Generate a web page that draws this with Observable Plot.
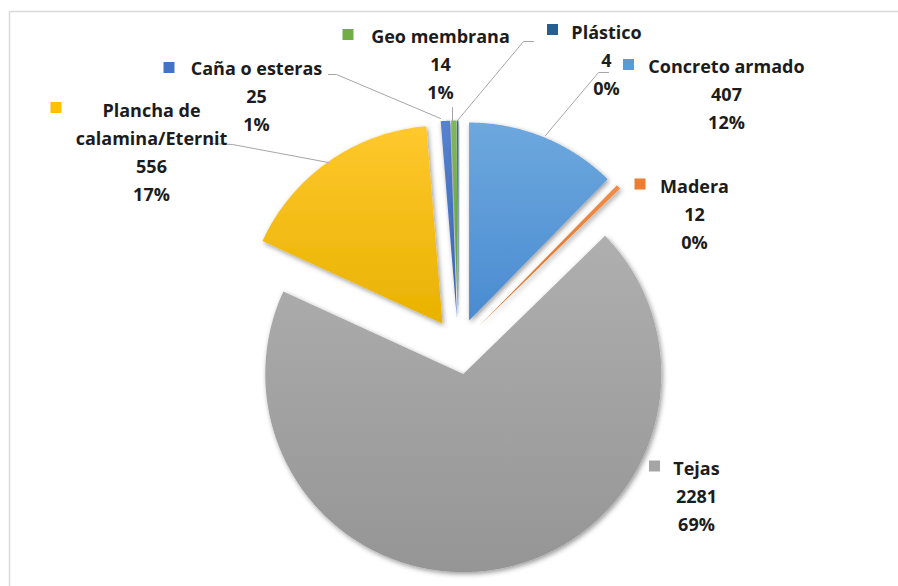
<!DOCTYPE html>
<html><head><meta charset="utf-8">
<script src="https://cdn.jsdelivr.net/npm/d3@7"></script>
<script src="https://cdn.jsdelivr.net/npm/@observablehq/plot@0.6"></script>
<style>html,body{margin:0;padding:0;background:#fff;overflow:hidden}</style>
</head><body><div id="chart"></div>
<script>
// ---- data ----
const categories = ["Concreto armado","Madera","Tejas","Plancha de calamina/Eternit","Caña o esteras","Geo membrana","Plástico"];
const counts = [407, 12, 2281, 556, 25, 14, 4];
const percentLabels = ["12%","0%","69%","17%","1%","1%","0%"];
const nameLines = [["Concreto armado"],["Madera"],["Tejas"],["Plancha de","calamina/Eternit"],["Caña o esteras"],["Geo membrana"],["Plástico"]];
const colors = ["#5B9BD5","#ED7D31","#A5A5A5","#FFC000","#4472C4","#70AD47","#255E91"];
const gradTop = ["#6DA8DE","#F28C47","#AFAFAF","#FFC82E","#5682CE","#7EB85A","#2F6BA2"];
const gradBottom = ["#4A8BD1","#DD6E1F","#959595","#E8B200","#3966B8","#60A03B","#1E5283"];

// ---- layout (pixels) ----
const W = 898, H = 586, CX = 458, CY = 346, R = 198, EXPLODE = 28;
const toU = (px, py) => [(px - CX) / R, (CY - py) / R];
const labelLayout = [
  {tx: 726, ty: 92,  kx: 628,   ky: 64},
  {tx: 694, ty: 212, kx: 639.5, ky: 183.5},
  {tx: 696, ty: 494, kx: 654,   ky: 465.5},
  {tx: 151, ty: 150, kx: 55.5,  ky: 107},
  {tx: 256, ty: 94,  kx: 168.5, ky: 67},
  {tx: 440, ty: 62,  kx: 347.5, ky: 34},
  {tx: 606, ty: 58,  kx: 552,   ky: 29}
];
const leaderLayout = [
  {i: 0, pts: [[608,72],[598,72],[545,135]]},
  {i: 3, pts: [[209,143],[232,144],[328,162]]},
  {i: 4, pts: [[328,74],[336,74],[440,118]]},
  {i: 5, pts: [[452,107],[452,120]]},
  {i: 6, pts: [[533,41],[523,41],[457,120]]}
];

// ---- geometry from data ----
const arcs = d3.pie().sort(null).value(d => d)(counts);
const slices = arcs.map((p, i) => {
  const mid = (p.startAngle + p.endAngle) / 2;
  const ox = Math.sin(mid) * EXPLODE / R, oy = Math.cos(mid) * EXPLODE / R;
  const n = Math.max(2, Math.ceil((p.endAngle - p.startAngle) / (Math.PI / 360)));
  const pts = [{x: ox, y: oy}];
  for (let k = 0; k <= n; k++) {
    const a = p.startAngle + (p.endAngle - p.startAngle) * k / n;
    pts.push({x: ox + Math.sin(a), y: oy + Math.cos(a)});
  }
  return pts;
});

const labels = categories.map((c, i) => {
  const [x, y] = toU(labelLayout[i].tx, labelLayout[i].ty);
  const [kx, ky] = toU(labelLayout[i].kx, labelLayout[i].ky);
  return {x, y, kx, ky, color: colors[i],
    text: [...nameLines[i], String(counts[i]), percentLabels[i]].join("\n")};
});
const leaders = leaderLayout.flatMap((l, j) => l.pts.map(([px, py]) => {
  const [x, y] = toU(px, py); return {id: j, x, y};
}));

const FONT = "'Open Sans', Lato, sans-serif";
const plot = Plot.plot({
  width: W, height: H, margin: 0,
  x: {domain: [-CX / R, (W - CX) / R], axis: null},
  y: {domain: [-(H - CY) / R, CY / R], axis: null},
  color: {type: "identity"},
  marks: [
    Plot.frame({stroke: "#D9D9D9", strokeWidth: 1.5, insetLeft: 9, insetTop: 11, insetRight: -4, insetBottom: -4}),
    ...slices.map((pts, i) => Plot.line(pts, {x: "x", y: "y", fill: colors[i], stroke: "none", ariaDescription: "slice"})),
    Plot.line(leaders, {x: "x", y: "y", z: "id", stroke: "#A6A6A6", strokeWidth: 1}),
    Plot.dot(labels, {x: "kx", y: "ky", symbol: "square", r: 6.2, fill: "color", stroke: "none"}),
    Plot.text(labels, {x: "x", y: "y", text: "text", fontSize: 18, fontWeight: "bold", lineHeight: 1.556,
      textAnchor: "middle", fill: "#1c1c1c", fontFamily: FONT})
  ]
});

const svg = d3.select(plot);
const defs = svg.insert("defs", ":first-child");
colors.forEach((c, i) => {
  const g = defs.append("linearGradient").attr("id", `grad${i}`).attr("x1", 0).attr("y1", 0).attr("x2", 0).attr("y2", 1);
  g.append("stop").attr("offset", "0%").attr("stop-color", gradTop[i]);
  g.append("stop").attr("offset", "100%").attr("stop-color", gradBottom[i]);
});
const f = defs.append("filter").attr("id", "shadow").attr("x", "-20%").attr("y", "-20%").attr("width", "140%").attr("height", "140%");
f.append("feDropShadow").attr("dx", 1.5).attr("dy", 2).attr("stdDeviation", 2.5).attr("flood-color", "#000").attr("flood-opacity", 0.4);
svg.selectAll("g[aria-description=slice]").each(function(_, i) {
  const url = `url(#grad${i})`;
  d3.select(this).attr("filter", "url(#shadow)").attr("fill", url).selectAll("path").attr("fill", url);
});

document.getElementById("chart").appendChild(plot);
</script>
</body></html>
